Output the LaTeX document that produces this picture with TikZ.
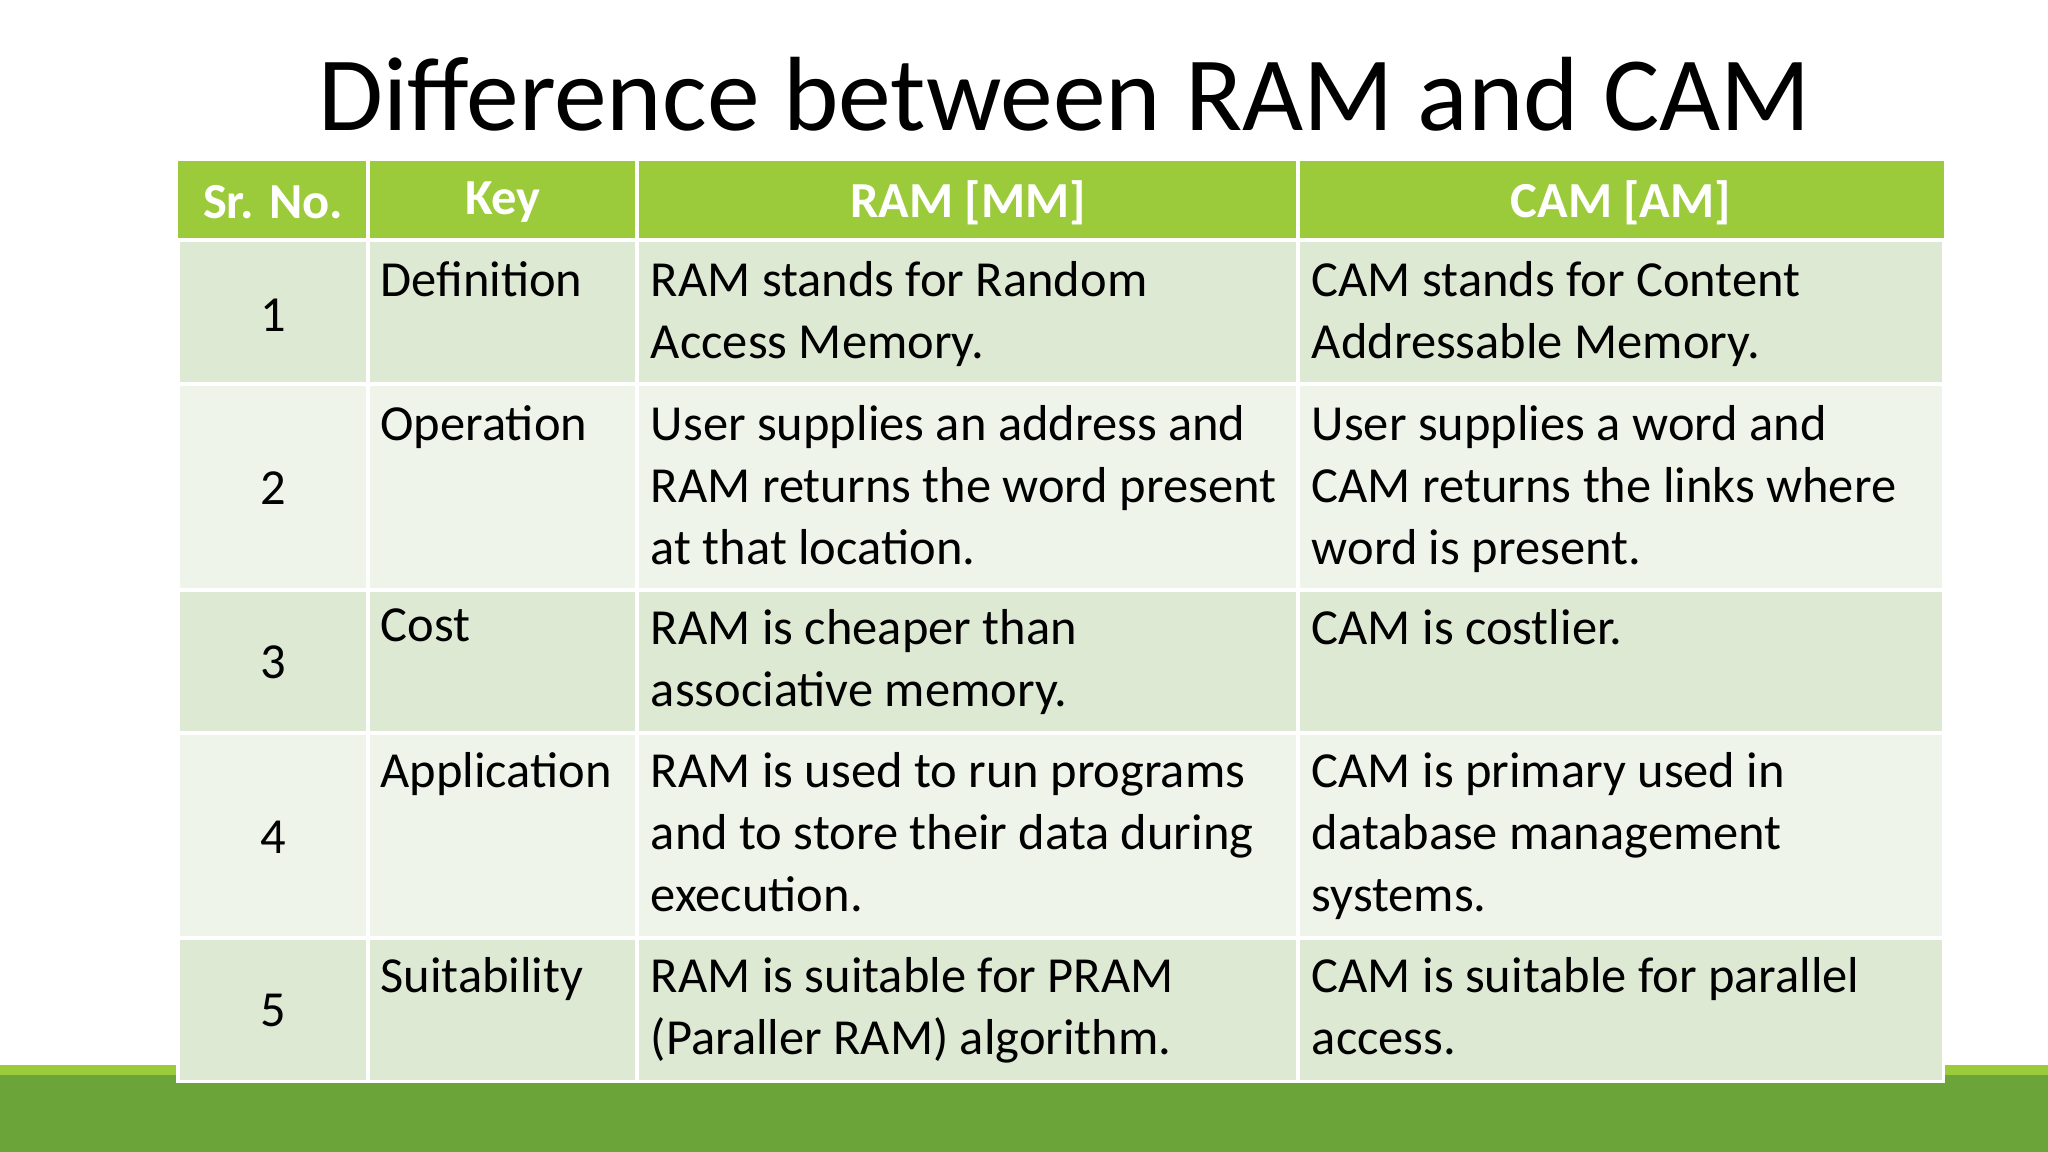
\documentclass[tikz,border=0pt]{standalone}
\usepackage{fontspec}
\setmainfont{Carlito}
\definecolor{hdgreen}{HTML}{9BCB3B}
\definecolor{rowa}{HTML}{DEE9D4}
\definecolor{rowb}{HTML}{EEF4EA}
\definecolor{bandlight}{HTML}{9BCB3B}
\definecolor{banddark}{HTML}{6BA539}
\begin{document}
\begin{tikzpicture}[x=0.02cm,y=-0.02cm,
    cell/.style={draw=white,line width=0.06cm,fill=#1},
    hd/.style={anchor=center,text=white,font=\fontsize{22}{27}\selectfont\bfseries},
    txt/.style={anchor=north west,align=left,inner sep=0pt,
        font=\fontsize{22}{27}\selectfont},
    num/.style={anchor=center,font=\fontsize{22}{27}\selectfont}
  ]
  \useasboundingbox (0,0) rectangle (1568,882);
  % bottom band
  \fill[bandlight] (0,815) rectangle (1568,882);
  \fill[banddark] (0,823) rectangle (1568,882);
  % title
  \node (title) at (815,72) {\fontsize{46}{50}\selectfont Difference between RAM and CAM};
  % header
  \fill[hdgreen] (136,123) rectangle (1488,184);
  \foreach \xa/\xb in {282/488,488/994,994/1488}
    \draw[white,line width=0.06cm] (\xa,123) -- (\xa,184);
  \node[hd] (h1) at (209,155) {Sr. No.};
  \node[hd] (h2) at (385,155) {Key};
  \node[hd] (h3) at (741,155) {RAM [MM]};
  \node[hd] (h4) at (1241,155) {CAM [AM]};
  % rows
  \foreach \ya/\yb/\c in {184/294/rowa,294/452/rowb,452/561/rowa,561/718/rowb,718/828/rowa}{
    \draw[cell=\c] (136,\ya) rectangle (282,\yb);
    \draw[cell=\c] (282,\ya) rectangle (488,\yb);
    \draw[cell=\c] (488,\ya) rectangle (994,\yb);
    \draw[cell=\c] (994,\ya) rectangle (1488,\yb);
  }
  % row 1
  \node[num] (n1) at (209,241) {1};
  \node[txt] (k1) at (291,200) {Definition};
  \node[txt] (r1) at (498,200) {RAM stands for Random\\Access Memory.};
  \node[txt] (c1) at (1004,200) {CAM stands for Content\\Addressable Memory.};
  % row 2
  \node[num] (n2) at (209,374) {2};
  \node[txt] (k2) at (291,310) {Operation};
  \node[txt] (r2) at (498,310) {User supplies an address and\\RAM returns the word present\\at that location.};
  \node[txt] (c2) at (1004,310) {User supplies a word and\\CAM returns the links where\\word is present.};
  % row 3
  \node[num] (n3) at (209,507) {3};
  \node[txt] (k3) at (291,466) {Cost};
  \node[txt] (r3) at (498,466) {RAM is cheaper than\\associative memory.};
  \node[txt] (c3) at (1004,466) {CAM is costlier.};
  % row 4
  \node[num] (n4) at (209,641) {4};
  \node[txt] (k4) at (291,576) {Application};
  \node[txt] (r4) at (498,576) {RAM is used to run programs\\and to store their data during\\execution.};
  \node[txt] (c4) at (1004,576) {CAM is primary used in\\database management\\systems.};
  % row 5
  \node[num] (n5) at (209,774) {5};
  \node[txt] (k5) at (291,733) {Suitability};
  \node[txt] (r5) at (498,733) {RAM is suitable for PRAM\\(Paraller RAM) algorithm.};
  \node[txt] (c5) at (1004,733) {CAM is suitable for parallel\\access.};
\end{tikzpicture}
\end{document}
